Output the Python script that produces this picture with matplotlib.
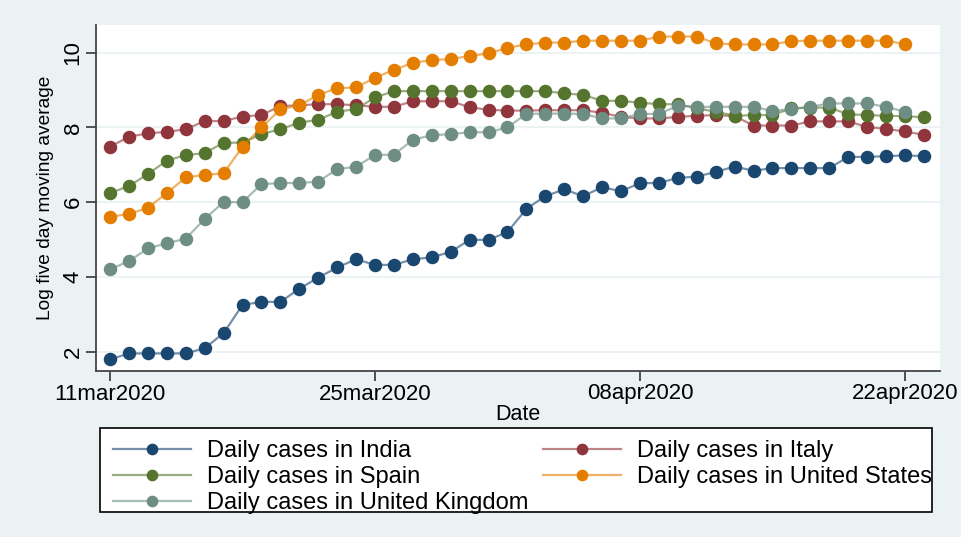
import matplotlib
matplotlib.use("Agg")
import matplotlib.pyplot as plt
from matplotlib.patches import Rectangle
import pandas as pd

start_date = "2020-03-11"
tick_labels = ["11mar2020", "25mar2020", "08apr2020", "22apr2020"]
tick_dates = ["2020-03-11", "2020-03-25", "2020-04-08", "2020-04-22"]

india = [1.79, 1.95, 1.95, 1.95, 1.95, 2.09, 2.49, 3.25, 3.33, 3.33,
         3.68, 3.98, 4.25, 4.47, 4.32, 4.32, 4.47, 4.52, 4.67, 4.99,
         4.99, 5.20, 5.82, 6.16, 6.34, 6.16, 6.40, 6.29, 6.51, 6.51,
         6.65, 6.68, 6.81, 6.95, 6.84, 6.91, 6.91, 6.91, 6.91, 7.21,
         7.21, 7.23, 7.25, 7.23]
italy = [7.48, 7.75, 7.84, 7.88, 7.95, 8.17, 8.17, 8.29, 8.33, 8.57,
         8.59, 8.62, 8.62, 8.59, 8.55, 8.55, 8.70, 8.70, 8.70, 8.54,
         8.47, 8.45, 8.45, 8.46, 8.46, 8.46, 8.39, 8.28, 8.24, 8.24,
         8.28, 8.31, 8.33, 8.30, 8.05, 8.05, 8.05, 8.16, 8.16, 8.16,
         8.01, 7.96, 7.89, 7.80]
spain = [6.24, 6.43, 6.75, 7.11, 7.26, 7.31, 7.59, 7.59, 7.82, 7.95,
         8.13, 8.20, 8.42, 8.49, 8.80, 8.97, 8.97, 8.97, 8.97, 8.97,
         8.97, 8.97, 8.97, 8.97, 8.91, 8.87, 8.71, 8.71, 8.66, 8.62,
         8.62, 8.51, 8.42, 8.31, 8.33, 8.33, 8.51, 8.53, 8.53, 8.35,
         8.33, 8.31, 8.30, 8.27]
usa = [5.61, 5.68, 5.85, 6.24, 6.66, 6.73, 6.77, 7.48, 8.00, 8.48,
       8.59, 8.87, 9.05, 9.07, 9.33, 9.54, 9.73, 9.80, 9.83, 9.91,
       9.98, 10.13, 10.22, 10.27, 10.27, 10.32, 10.32, 10.32, 10.32, 10.43,
       10.43, 10.43, 10.25, 10.22, 10.22, 10.22, 10.31, 10.32, 10.32, 10.32,
       10.32, 10.32, 10.23]
uk = [4.20, 4.42, 4.76, 4.90, 5.02, 5.55, 6.00, 6.00, 6.48, 6.51,
      6.51, 6.55, 6.88, 6.95, 7.26, 7.27, 7.67, 7.79, 7.82, 7.87,
      7.87, 8.00, 8.36, 8.37, 8.37, 8.36, 8.24, 8.24, 8.36, 8.36,
      8.58, 8.55, 8.55, 8.55, 8.55, 8.44, 8.49, 8.55, 8.64, 8.64,
      8.64, 8.55, 8.42]

labels = ["Daily cases in India", "Daily cases in Italy", "Daily cases in Spain",
          "Daily cases in United States", "Daily cases in United Kingdom"]
colors = ["#1a476f", "#90353b", "#55752f", "#e37e00", "#6e8e84"]
series = [india, italy, spain, usa, uk]

plt.rcParams['font.family'] = ['Liberation Sans', 'DejaVu Sans']

W, H = 962, 537
bg = "#eaf2f3"
fig = plt.figure(figsize=(W/100, H/100), dpi=100, facecolor=bg)
ax = fig.add_axes([96/W, 1-371/H, (940-96)/W, (371-25)/H])
ax.set_facecolor("white")

handles = []
for vals, col, lab in zip(series, colors, labels):
    x = pd.date_range(start_date, periods=len(vals), freq="D")
    rgba = matplotlib.colors.to_rgba(col, 0.6)
    h, = ax.plot(x, vals, color=rgba, lw=1.6, marker="o", ms=8.7,
                 markerfacecolor=col, markeredgecolor=col, label=lab, zorder=3)
    handles.append(h)

ax.set_ylim(1.48, 10.74)
x0 = pd.Timestamp(start_date)
ax.set_xlim(x0 - pd.Timedelta(days=0.74), x0 + pd.Timedelta(days=43.85))
ax.set_yticks([2, 4, 6, 8, 10])
ax.set_yticklabels(["2", "4", "6", "8", "10"], rotation=90, va="center")
ax.set_xticks(pd.to_datetime(tick_dates))
ax.set_xticklabels(tick_labels)
ax.grid(axis="y", color=bg, lw=1.3)
ax.set_axisbelow(True)

for s in ["top", "right"]:
    ax.spines[s].set_visible(False)
for s in ["left", "bottom"]:
    ax.spines[s].set_color("#444444")
    ax.spines[s].set_linewidth(1.3)
ax.tick_params(axis="both", colors="#444444", length=7, width=1.3,
               labelsize=16, labelcolor="black", pad=2)

ax.set_xlabel("Date", fontsize=15.5, labelpad=0)
ax.set_ylabel("Log five day moving average", fontsize=13.8, labelpad=6)

# legend box (drawn separately so text may overflow like the reference)
box = Rectangle((100/W, 1-512/H), (932-100)/W, (512-428)/H,
                transform=fig.transFigure, facecolor="white",
                edgecolor="black", lw=1.2, zorder=1)
fig.patches.append(box)

order = [0, 2, 4, 1, 3]
leg = fig.legend([handles[i] for i in order], [labels[i] for i in order],
                 ncol=2, loc="upper left",
                 bbox_to_anchor=(113/W, 1-440/H),
                 fontsize=17, handlelength=3.3, markerscale=0.85,
                 frameon=False, borderpad=0, borderaxespad=0,
                 labelspacing=0.17, handletextpad=0.7, columnspacing=0.6)
leg.set_zorder(2)

fig.savefig("out.png", dpi=100, facecolor=bg)
